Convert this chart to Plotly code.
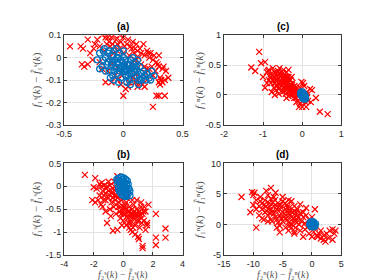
import plotly.graph_objects as go

# ---------------- data ----------------
a_red = [(-0.45, 0.05), (-0.36, 0.05), (-0.30, 0.08), (-0.28, 0.02), (-0.25, 0.04), (-0.35, -0.03), (-0.33, -0.04),
         (-0.30, -0.03), (-0.26, -0.01), (-0.22, 0.08), (-0.18, 0.1), (-0.15, 0.09), (-0.12, 0.07), (-0.1, 0.09),
         (-0.08, 0.1), (-0.05, 0.06), (-0.02, 0.07), (0.0, 0.09), (0.03, 0.06), (0.06, 0.05), (0.08, 0.07), (0.1, 0.04),
         (0.12, 0.03), (0.15, 0.02), (0.18, 0.01), (0.2, 0.03), (0.22, 0.0), (0.25, -0.01), (0.28, -0.02), (0.3, 0.01),
         (0.33, -0.05), (0.3, -0.04), (0.27, -0.06), (0.22, -0.05), (0.38, -0.09), (0.35, -0.1), (0.32, -0.1),
         (0.3, -0.11), (0.25, -0.08), (0.2, -0.1), (0.18, -0.13), (0.12, -0.13), (0.08, -0.09), (0.05, -0.11),
         (0.02, -0.14), (0.0, -0.17), (-0.02, -0.12), (-0.05, -0.1), (-0.1, -0.11), (-0.15, -0.11), (-0.13, -0.06),
         (-0.18, -0.05), (-0.2, -0.02), (-0.12, 0.0), (-0.08, 0.02), (-0.05, 0.03), (0.0, 0.02), (0.05, 0.01),
         (0.1, -0.01), (0.15, -0.03), (0.1, -0.07), (0.05, -0.05), (0.0, -0.06), (-0.05, -0.04), (-0.1, -0.03),
         (0.28, -0.17), (0.3, -0.17), (0.35, -0.17), (0.25, -0.22), (0.2, -0.05), (0.17, 0.06), (-0.03, 0.04),
         (0.07, -0.03), (0.13, 0.0), (0.24, -0.04), (0.31, -0.12), (0.02, -0.03), (-0.07, 0.05), (-0.16, 0.03),
         (0.04, 0.08), (0.09, 0.02), (0.19, -0.07), (0.14, -0.11), (-0.01, -0.08),
         (-0.11, 0.05), (-0.14, 0.06), (-0.06, 0.08), (0.01, 0.05), (0.11, 0.06), (0.14, 0.04), (0.21, 0.02),
         (0.26, 0.01), (0.23, 0.02), (0.29, -0.03), (0.33, -0.11), (0.31, -0.09), (0.16, -0.12), (0.1, -0.11),
         (-0.03, 0.1), (-0.13, 0.09), (-0.2, 0.05), (-0.24, 0.06), (-0.34, 0.04), (-0.09, 0.06), (0.07, 0.04),
         (0.34, -0.04), (0.36, -0.06), (0.04, -0.13), (-0.07, -0.08), (0.18, -0.04)]
a_blue = [(-0.22, -0.01), (-0.2, 0.02), (-0.18, -0.04), (-0.17, 0.03), (-0.15, 0.0), (-0.14, -0.03), (-0.13, 0.02),
          (-0.12, -0.06), (-0.1, 0.01), (-0.1, -0.03), (-0.09, -0.08), (-0.08, 0.03), (-0.07, -0.01), (-0.06, -0.05),
          (-0.05, 0.0), (-0.05, -0.07), (-0.04, -0.03), (-0.03, 0.02), (-0.02, -0.05), (-0.02, -0.09), (-0.01, -0.02),
          (0.0, -0.06), (0.0, 0.0), (0.01, -0.04), (0.02, -0.08), (0.02, -0.01), (0.03, -0.06), (0.04, -0.03),
          (0.05, -0.1), (0.05, -0.05), (0.06, -0.01), (0.07, -0.07), (0.08, -0.04), (0.09, -0.09), (0.1, -0.05),
          (0.1, -0.02), (0.11, -0.08), (0.12, -0.06), (0.13, -0.1), (0.14, -0.04), (0.15, -0.07), (0.16, -0.09),
          (0.17, -0.06), (0.18, -0.08), (0.2, -0.07), (0.13, -0.12), (-0.15, -0.06), (-0.08, -0.1), (-0.12, 0.03),
          (0.0, 0.03), (-0.04, -0.11), (0.06, -0.12), (-0.2, -0.05), (0.08, 0.0), (-0.16, 0.04), (-0.11, -0.09),
          (0.03, -0.11), (0.12, -0.01), (-0.06, 0.04), (-0.13, -0.02),
          (-0.09, -0.02), (-0.07, -0.04), (-0.05, -0.02), (-0.03, -0.06), (-0.01, -0.04), (0.01, -0.06),
          (0.03, -0.03), (0.05, -0.07), (0.07, -0.05), (0.09, -0.06), (-0.08, -0.06), (-0.04, 0.0), (0.02, -0.05),
          (0.06, -0.03), (0.11, -0.04), (-0.11, -0.01), (-0.02, -0.01), (0.04, -0.08), (0.22, -0.09), (0.24, -0.06),
          (0.23, -0.1), (-0.17, -0.01), (0.15, -0.1), (0.19, -0.1), (0.26, -0.08)]

c_red = [(-1.1, 0.72), (-1.3, 0.46), (-1.2, 0.4), (-1.05, 0.53), (-0.95, 0.55), (-1.0, 0.3), (-0.95, 0.12), (-0.9, 0.38),
         (-0.85, 0.42), (-0.8, 0.35), (-0.8, 0.2), (-0.78, 0.05), (-0.75, 0.45), (-0.72, 0.3), (-0.7, 0.38),
         (-0.68, 0.25), (-0.65, 0.32), (-0.65, 0.15), (-0.62, 0.4), (-0.6, 0.28), (-0.6, 0.1), (-0.58, 0.35),
         (-0.55, 0.22), (-0.55, 0.32), (-0.52, 0.15), (-0.5, 0.28), (-0.5, 0.05), (-0.48, 0.2), (-0.45, 0.3),
         (-0.45, 0.12), (-0.42, 0.25), (-0.42, 0.02), (-0.4, 0.38), (-0.4, 0.18), (-0.38, 0.1), (-0.36, 0.22),
         (-0.35, 0.3), (-0.35, -0.02), (-0.32, 0.15), (-0.3, 0.05), (-0.3, 0.25), (-0.28, 0.12), (-0.25, 0.2),
         (-0.25, 0.0), (-0.22, 0.08), (-0.2, 0.15), (-0.2, -0.05), (-0.18, 0.05), (-0.15, 0.1), (-0.12, -0.02),
         (-0.1, 0.05), (-0.1, -0.1), (-0.08, -0.2), (-0.05, 0.12), (-0.02, 0.22), (0.02, 0.2), (0.05, -0.08),
         (0.08, -0.12), (0.1, -0.2), (0.12, -0.05), (0.15, -0.1), (0.2, 0.1), (0.25, 0.08), (0.22, -0.12),
         (0.35, -0.05), (0.45, -0.28), (0.65, -0.32), (-0.7, 0.0), (-0.85, 0.25), (-0.62, 0.2), (-0.53, 0.38),
         (-0.47, 0.33), (-0.38, 0.3), (-0.33, 0.08), (-0.27, 0.3), (-0.57, 0.12), (-0.67, 0.08), (-0.44, 0.07),
         (-0.23, 0.12), (-0.15, -0.05), (-0.05, -0.15), (0.0, -0.1), (-0.75, 0.25), (-0.82, 0.3), (-0.58, 0.45),
         (-0.48, 0.42), (-0.3, 0.18), (-0.35, 0.42), (-0.9, 0.2), (-0.72, 0.12), (-0.05, 0.05), (0.08, 0.0),
         (0.12, 0.05), (-0.4, -0.05), (-0.6, 0.02),
         (-0.66, 0.36), (-0.52, 0.27), (-0.46, 0.24), (-0.41, 0.14), (-0.37, 0.19), (-0.33, 0.26), (-0.29, 0.09),
         (-0.26, 0.16), (-0.21, 0.02), (-0.17, 0.12), (-0.13, 0.07), (-0.56, 0.18), (-0.63, 0.26), (-0.7, 0.2),
         (-0.77, 0.33), (-0.5, 0.36), (-0.43, 0.3), (-0.34, 0.12), (-0.31, 0.0), (-0.08, 0.02), (0.05, 0.15),
         (-0.15, -0.12), (0.0, -0.2), (-0.87, 0.4), (-0.44, 0.2), (-0.39, 0.25)]
c_blue = [(-0.04, 0.04), (-0.02, 0.05), (0.0, 0.03), (0.02, 0.02), (0.04, 0.0), (0.06, -0.02), (0.08, -0.04),
          (0.09, -0.06), (-0.03, 0.0), (0.0, -0.02), (0.03, -0.04), (0.05, -0.06), (0.07, -0.07), (-0.01, 0.01),
          (0.01, -0.01), (0.03, 0.03), (0.05, 0.01), (0.07, -0.01), (-0.04, 0.02), (0.02, -0.06), (0.06, -0.05),
          (0.0, 0.05), (0.08, -0.02)]

b_red = [(-2.6, 0.25), (-1.9, 0.18), (-0.4, 0.22), (-2.0, -0.02), (-2.1, -0.3), (-1.9, -0.35), (-1.8, -0.05),
         (-1.6, -0.2), (-1.5, 0.0), (-1.4, -0.1), (-1.3, 0.02), (-1.2, -0.15), (-1.2, -0.3), (-1.1, 0.0), (-1.0, -0.1),
         (-1.0, -0.25), (-0.9, 0.02), (-0.8, -0.15), (-0.8, -0.35), (-0.7, -0.05), (-0.6, -0.2), (-0.6, 0.0),
         (-0.5, -0.1), (-0.5, -0.4), (-0.4, -0.25), (-0.3, -0.35), (-0.2, -0.45), (-0.1, -0.3), (0.0, -0.5),
         (0.1, -0.4), (0.1, -0.6), (0.2, -0.35), (0.3, -0.55), (0.3, -0.7), (0.4, -0.45), (0.5, -0.6), (0.5, -0.8),
         (0.6, -0.5), (0.7, -0.7), (0.7, -0.4), (0.8, -0.6), (0.8, -0.85), (0.9, -0.5), (1.0, -0.65), (1.0, -0.75),
         (1.1, -0.55), (1.2, -0.7), (1.3, -0.6), (1.4, -0.75), (1.5, -0.55), (1.6, -0.8), (1.7, -0.4), (2.2, -0.6),
         (2.2, -1.12), (2.2, -1.28), (2.85, -0.92), (2.85, -1.12), (1.3, -1.3), (1.3, -1.35), (1.0, -1.1),
         (0.8, -1.05), (0.5, -0.95), (-0.4, -0.95), (-0.7, -0.97), (-1.1, -0.8), (1.6, -0.85), (-1.2, -0.55),
         (-0.9, -0.5), (-0.5, -0.6), (-0.2, -0.7), (0.0, -0.75), (0.2, -0.85), (0.4, -0.9), (0.6, -1.0), (-1.5, -0.4),
         (-1.7, -0.3), (-0.3, -0.05), (-1.4, -0.45), (0.9, -0.3), (1.2, -0.35), (-0.15, -0.6), (0.25, -0.25),
         (0.6, -0.3), (1.4, -0.45), (-0.7, -0.25), (-1.3, -0.2), (1.1, -0.9), (0.9, -0.75), (0.65, -0.9),
         (-0.1, -0.85), (-1.0, 0.1), (-0.6, 0.1), (-1.6, 0.05), (0.0, -0.6), (0.35, -0.8), (0.75, -0.55),
         (1.2, -0.45), (-0.85, -0.65), (1.5, -0.95), (1.05, -1.15),
         (-1.15, -0.05), (-0.95, -0.18), (-0.75, -0.12), (-0.55, -0.3), (-0.35, -0.45), (-0.25, -0.55),
         (0.15, -0.5), (0.45, -0.65), (0.55, -0.7), (0.85, -0.65), (0.95, -0.6), (1.15, -0.62), (1.25, -0.8),
         (0.65, -0.6), (0.4, -0.55), (-1.35, -0.3), (-1.45, 0.08), (-0.45, -0.2), (0.05, -0.45), (1.35, -0.55),
         (0.25, -0.65), (-0.65, -0.45)]
b_blue = [(-0.44, 0.15), (-0.38, 0.05), (-0.33, -0.05), (-0.33, 0.18), (-0.27, 0.1), (-0.22, 0.0), (-0.22, -0.12),
          (-0.16, 0.2), (-0.16, 0.08), (-0.11, -0.05), (-0.11, -0.18), (-0.05, 0.15), (-0.05, 0.03), (0.0, -0.1),
          (0.0, 0.1), (0.0, -0.2), (0.05, 0.18), (0.05, 0.0), (0.11, -0.15), (0.11, 0.08), (0.16, -0.05),
          (0.16, 0.15), (0.22, -0.18), (0.22, 0.03), (0.27, -0.1), (0.33, 0.05), (0.33, -0.16), (0.38, -0.05),
          (-0.27, -0.1), (0.27, 0.12), (-0.38, 0.12), (0.44, -0.1), (0.11, -0.22), (-0.11, 0.2), (0.0, 0.0),
          (-0.16, -0.14), (0.2, -0.22), (0.45, -0.2)]

d_red = [(-12, 4.5), (-10.2, 5.3), (-9.8, 5.2), (-7, 6), (-6.2, 5.2), (-10.5, 2), (-9.5, -0.5), (-10, 3.2),
         (-9.5, 4), (-9, 3), (-9, 1.5), (-8.8, 4.5), (-8.5, 3.5), (-8.5, 2.5), (-8.2, 0.8), (-8, 4), (-8, 2),
         (-7.8, 3), (-7.5, 4.8), (-7.5, 1.5), (-7.3, 3.5), (-7, 2.5), (-7, 4.2), (-6.8, 0.5), (-6.5, 3), (-6.5, 1.8),
         (-6.3, 4), (-6, 2.5), (-6, 0.8), (-5.8, 3.5), (-5.5, 1.5), (-5.5, -0.2), (-5.3, 2.8), (-5, 2), (-5, 0.5),
         (-5, 3.8), (-4.8, 1.2), (-4.5, 2.5), (-4.5, -0.5), (-4.3, 3.2), (-4, 1.8), (-4, 0.3), (-3.8, 2.8),
         (-3.5, 1.2), (-3.5, -0.5), (-3.3, 2), (-3.2, 0.5), (-3, 3), (-3, -1.2), (-2.8, 1.5), (-2.5, 0.8),
         (-2.5, 2.5), (-2.2, 0), (-2, 1.8), (-2, 3.3), (-1.8, 0.5), (-1.5, 1.2), (-1.2, 0.2), (-1, 1.5), (-1, 2.7),
         (-0.8, -0.5), (-0.5, 0.8), (-0.5, -1.5), (0, 1.2), (0.5, 2.5), (0.3, -1.2), (0.5, -0.5), (1, -2), (1.2, -1.5),
         (1.5, -2.3), (2, -2.5), (2, -1.8), (2.5, -1.5), (2.8, -2.2), (3, -1), (3.5, -0.8), (4, -1), (3.5, -2.5),
         (3.8, -1.5), (-7.5, 0.5), (-5.5, -1.3), (-3, -1.5), (-6, -0.5), (-4, -1), (-2, -1), (-1.5, -2), (0, -2),
         (-8.5, 1), (-7, 0.8), (-6.5, 4.5), (-5, 4.5), (-4, 4), (-3.5, 3.8), (-4.5, 1), (-3.8, -0.2), (-2.8, -0.5),
         (-1.2, -0.8), (1.5, -1), (-9.5, 2.5), (-10, 4.8), (-7.8, 5.5), (-3, 2.2), (-2.3, 1.2), (-1.5, 2),
         (-6.8, 2), (-5.8, 0.3), (-4.2, 2.8), (0.8, -1.8), (2.3, -2.8),
         (-8.8, 3.8), (-8.2, 3.2), (-7.7, 2.2), (-7.2, 3.0), (-6.7, 3.6), (-6.2, 1.2), (-5.7, 2.2), (-5.2, 1.0),
         (-4.7, 1.8), (-4.2, 0.8), (-3.7, 1.6), (-3.4, 0.0), (-2.6, 0.3), (-4.6, 3.5), (-3.9, 2.3), (-3.1, 1.0),
         (-5.4, 3.2), (-6.0, 3.0), (-7.2, 1.9), (-2.7, 2.0)]
d_blue = [(-0.3, 0.4), (0.0, 0.5), (0.3, 0.4), (0.6, 0.1), (0.5, -0.3), (0.2, -0.4), (-0.2, -0.3), (-0.4, 0.0),
          (0.0, 0.0), (0.3, 0.1), (-0.1, 0.2), (0.2, -0.1), (0.1, 0.3), (-0.2, -0.05), (0.4, -0.1)]

titles = ["(a)", "(c)", "(b)", "(d)"]
x_ticks = [[-0.5, 0, 0.5], [-2, -1, 0, 1], [-4, -2, 0, 2, 4], [-15, -10, -5, 0, 5]]
y_ticks = [[-0.3, -0.2, -0.1, 0, 0.1], [-0.5, 0, 0.5, 1], [-1.5, -1, -0.5, 0, 0.5], [-5, 0, 5, 10]]
x_tick_text = [["-0.5", "0", "0.5"], ["-2", "-1", "0", "1"], ["-4", "-2", "0", "2", "4"],
               ["-15", "-10", "-5", "0", "5"]]
y_tick_text = [["-0.3", "-0.2", "-0.1", "0", "0.1"], ["-0.5", "0", "0.5", "1"],
               ["-1.5", "-1", "-0.5", "0", "0.5"], ["-5", "0", "5", "10"]]
y_labels = ["<i>f</i>₁ˢ(<i>k</i>) − <i>f̂</i>₁ˢ(<i>k</i>)",
            "<i>f</i>₁ⁿ(<i>k</i>) − <i>f̂</i>₁ⁿ(<i>k</i>)",
            "<i>f</i>₁ˢ(<i>k</i>) − <i>f̂</i>₁ˢ(<i>k</i>)",
            "<i>f</i>₁ⁿ(<i>k</i>) − <i>f̂</i>₁ⁿ(<i>k</i>)"]
x_labels = ["", "", "<i>f</i>₂ˢ(<i>k</i>) − <i>f̂</i>₂ˢ(<i>k</i>)",
            "<i>f</i>₂ⁿ(<i>k</i>) − <i>f̂</i>₂ⁿ(<i>k</i>)"]

# ---------------- layout geometry ----------------
W, H = 374, 280
x_dom = [(50 / W, 173 / W), (216 / W, 338 / W), (50 / W, 173 / W), (216 / W, 338 / W)]
y_dom = [(1 - 116 / H, 1 - 23 / H), (1 - 116 / H, 1 - 23 / H), (1 - 251 / H, 1 - 156 / H), (1 - 251 / H, 1 - 156 / H)]

RED = "#FF0000"
BLUE = "#0072BD"

fig = go.Figure()
reds = [a_red, c_red, b_red, d_red]
blues = [a_blue, c_blue, b_blue, d_blue]
for i in range(4):
    sfx = "" if i == 0 else str(i + 1)
    fig.add_trace(go.Scatter(
        x=[p[0] for p in reds[i]], y=[p[1] for p in reds[i]], mode="markers",
        marker=dict(symbol="x-thin-open", size=6, line=dict(color=RED, width=1.2), color=RED),
        xaxis="x" + sfx, yaxis="y" + sfx, showlegend=False))
    fig.add_trace(go.Scatter(
        x=[p[0] for p in blues[i]], y=[p[1] for p in blues[i]], mode="markers",
        marker=dict(symbol="circle-open", size=6, line=dict(color=BLUE, width=1.3), color=BLUE),
        xaxis="x" + sfx, yaxis="y" + sfx, showlegend=False))

axis_common = dict(showgrid=True, gridcolor="#e3e3e3", gridwidth=1, zeroline=False,
                   showline=True, linecolor="#3a3a3a", linewidth=1, mirror="ticks",
                   ticks="inside", ticklen=3, tickcolor="#3a3a3a",
                   tickfont=dict(family="Liberation Sans, Arial", size=9, color="#262626"))
layout = dict(width=W, height=H, margin=dict(l=0, r=0, t=0, b=0),
              paper_bgcolor="white", plot_bgcolor="white", showlegend=False)
annotations = []
for i in range(4):
    sfx = "" if i == 0 else str(i + 1)
    xr = [x_ticks[i][0], x_ticks[i][-1]]
    yr = [y_ticks[i][0], y_ticks[i][-1]]
    layout["xaxis" + sfx] = dict(axis_common, domain=list(x_dom[i]), range=xr, anchor="y" + sfx,
                                 tickvals=x_ticks[i], ticktext=x_tick_text[i])
    layout["yaxis" + sfx] = dict(axis_common, domain=list(y_dom[i]), range=yr, anchor="x" + sfx,
                                 tickvals=y_ticks[i], ticktext=y_tick_text[i])
    xc = (x_dom[i][0] + x_dom[i][1]) / 2
    annotations.append(dict(text="<b>" + titles[i] + "</b>", x=xc, y=y_dom[i][1], xref="paper", yref="paper",
                            xanchor="center", yanchor="bottom", yshift=1, showarrow=False,
                            font=dict(family="Liberation Sans, Arial", size=10, color="#000")))
    ylab_x = (21 if i in (0, 2) else 190) / W
    annotations.append(dict(text=y_labels[i], x=ylab_x, y=(y_dom[i][0] + y_dom[i][1]) / 2,
                            xref="paper", yref="paper", xanchor="center", yanchor="middle",
                            textangle=-90, showarrow=False,
                            font=dict(family="Liberation Serif, DejaVu Serif", size=11, color="#555")))
    if x_labels[i]:
        annotations.append(dict(text=x_labels[i], x=xc, y=0.004, xref="paper", yref="paper",
                                xanchor="center", yanchor="bottom", showarrow=False, borderpad=0,
                                font=dict(family="Liberation Serif, DejaVu Serif", size=10, color="#555")))
layout["annotations"] = annotations
fig.update_layout(**layout)
fig.write_html("out.html")
